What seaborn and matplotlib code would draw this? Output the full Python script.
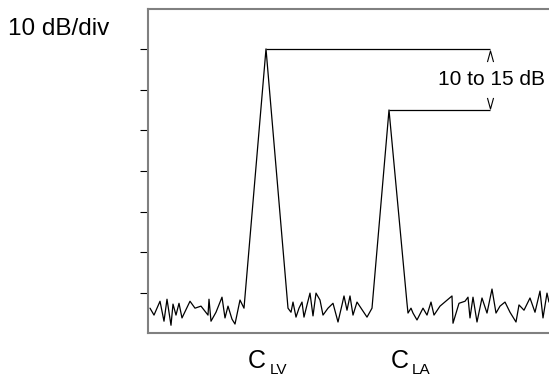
import pandas as pd
import matplotlib
matplotlib.use('Agg')
import matplotlib.pyplot as plt
import seaborn as sns

# spectrum trace (x: frequency units, y: level in dB)
freq = [2, 6, 12, 16, 19, 23, 25, 28, 31, 34, 42, 47, 53, 60, 61, 63, 68, 74, 77, 80,
        84, 87, 92, 96, 118, 140, 143, 145, 148, 151, 154, 156, 159, 162, 165, 168, 172,
        175, 180, 185, 190, 194, 196, 199, 202, 205, 209, 219, 224, 241, 259, 260, 263,
        265, 269, 275, 279, 283, 286, 292, 304, 305, 311, 317, 320, 322, 325, 329, 334,
        339, 344, 348, 352, 357, 362, 368, 371, 376, 382, 387, 392, 395, 399, 401]
level = [-63.7, -65.4, -62.0, -66.9, -61.5, -67.9, -62.7, -65.4, -62.5, -66.1, -62.0,
         -63.7, -63.2, -65.4, -61.5, -66.9, -64.7, -61.0, -66.1, -63.2, -66.4, -67.6,
         -61.7, -63.7, 0.0, -63.7, -64.7, -62.2, -65.9, -63.7, -62.2, -65.9, -62.9,
         -60.0, -65.6, -60.0, -61.7, -65.4, -63.7, -62.5, -67.1, -62.9, -60.7, -64.2,
         -60.7, -65.4, -62.2, -65.9, -63.7, -15.0, -62.5, -64.9, -63.7, -64.9, -66.6,
         -63.7, -65.4, -62.2, -65.4, -63.2, -60.7, -67.4, -62.5, -62.0, -61.0, -66.1,
         -61.0, -67.1, -61.2, -64.9, -59.0, -64.9, -63.2, -62.2, -64.7, -67.1, -62.9,
         -64.2, -61.2, -64.7, -59.5, -66.1, -60.0, -62.2]

peak_freq = [118, 241]
peak_level = [0.0, -15.0]
peak_names = ['C', 'C']
peak_subs = ['LV', 'LA']
marker_freq = 342
div_ticks = [-60, -50, -40, -30, -20, -10, 0]

df = pd.DataFrame({'freq': freq, 'level': level})

sns.set_style('white')
plt.rcParams['font.family'] = ['Liberation Sans', 'DejaVu Sans']
plt.rcParams['text.color'] = 'black'

fig = plt.figure(figsize=(5.49, 3.77), dpi=100)
ax = fig.add_axes([148/549, 1-333/377, 401/549, 324/377])

sns.lineplot(data=df, x='freq', y='level', color='black', linewidth=0.9, ax=ax)

# reference lines from each carrier peak to the marker column
ax.hlines(peak_level, peak_freq, marker_freq, color='black', linewidth=0.9)
ax.plot([marker_freq], [peak_level[0] - 1.85], linestyle='none', color='black',
        marker=[(-0.55, -1), (0, 1), (0.55, -1)], markersize=8, mfc='none', mew=0.8)
ax.plot([marker_freq], [peak_level[1] + 1.8], linestyle='none', color='black',
        marker=[(-0.55, 1), (0, -1), (0.55, 1)], markersize=8, mfc='none', mew=0.8)
ax.text(marker_freq + 1, (peak_level[0] + peak_level[1]) / 2, '10 to 15 dB',
        ha='center', va='center', fontsize=15, color='black')

ax.set_xlim(0, 401)
ax.set_ylim(-69.8, 9.8)
ax.set_yticks(div_ticks)
ax.set_yticklabels([])
ax.set_xticks([])
ax.set_xlabel('')
ax.set_ylabel('')
ax.tick_params(axis='y', direction='out', length=6, width=0.8, color='black', left=True)

for side in ['left', 'top', 'bottom']:
    ax.spines[side].set_color('#808080')
    ax.spines[side].set_linewidth(1.5)
ax.spines['right'].set_visible(False)

# carrier labels under the axis
offsets = [(-9, 4), (11, 23)]
for f, name, sub, (dc, ds) in zip(peak_freq, peak_names, peak_subs, offsets):
    ax.annotate(name, xy=(f, 0), xycoords=('data', 'axes fraction'),
                xytext=(dc * 0.72, -25), textcoords='offset points',
                ha='center', va='baseline', fontsize=18, color='black',
                annotation_clip=False)
    ax.annotate(sub, xy=(f, 0), xycoords=('data', 'axes fraction'),
                xytext=(ds * 0.72, -29.5), textcoords='offset points',
                ha='left', va='baseline', fontsize=11, color='black',
                annotation_clip=False)

fig.text(8/549, 1-35/377, '10 dB/div', ha='left', va='baseline', fontsize=17.5,
         color='black')

fig.savefig('out.png', dpi=100)
